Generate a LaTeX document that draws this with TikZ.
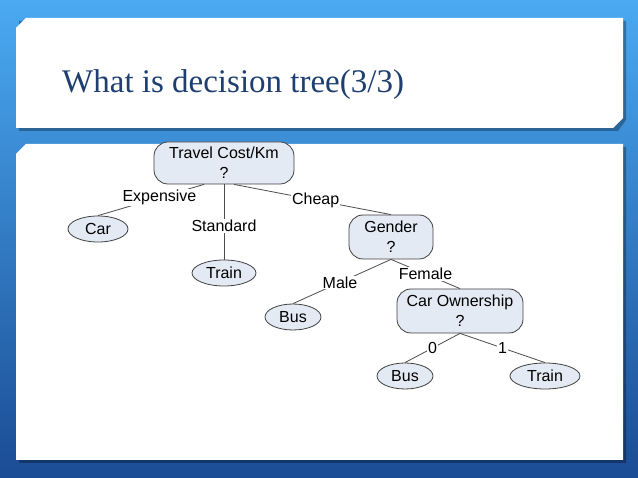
\documentclass[tikz,border=0pt]{standalone}
\usepackage{fontspec}
\setmainfont{Liberation Sans}
\newfontfamily\titlefont{Liberation Serif}
\usetikzlibrary{shapes.geometric}
\definecolor{bgtop}{HTML}{4AAAF2}
\definecolor{bgbot}{HTML}{1A4C94}
\definecolor{nodefill}{HTML}{E4EAF4}
\definecolor{titlec}{HTML}{1E3F70}
\tikzset{
  dec/.style={draw=black!75,fill=nodefill,rounded corners=14pt,align=center,font=\fontsize{16}{20}\selectfont,inner sep=0pt,line width=0.8pt},
  leaf/.style={draw=black!75,fill=nodefill,ellipse,inner sep=0pt,minimum height=26pt,font=\fontsize{16}{18}\selectfont,line width=0.8pt},
  lab/.style={fill=white,inner sep=1pt,font=\fontsize{16}{18}\selectfont},
  conn/.style={draw=black!70,line width=0.8pt},
  panel/.style={fill=white,draw=none}
}
\begin{document}
\begin{tikzpicture}[x=1pt,y=-1pt]
\useasboundingbox (0,0) rectangle (638,478);
\shade[top color=bgtop,bottom color=bgbot] (0,0) rectangle (638,478);
\fill[black,opacity=0.3] (19,21) -- (26,21) -- (626,21) -- (626,120) -- (618,131) -- (19,131) -- cycle;
\path[panel] (16,28) -- (26,18) -- (623,18) -- (623,118) -- (613,128) -- (16,128) -- cycle;
\fill[black,opacity=0.3] (19,151) -- (626,147) -- (626,463) -- (19,463) -- cycle;
\path[panel] (16,154) -- (26,144) -- (623,144) -- (623,460) -- (16,460) -- cycle;
\node[anchor=base west,text=titlec,font=\titlefont\fontsize{33}{35}\selectfont,inner sep=0pt] (title) at (62,93) {What is decision tree(3/3)};

\node[dec,minimum width=140pt,minimum height=42pt] (root) at (224,163) {Travel Cost/Km\\?};
\node[leaf,minimum width=60pt] (car) at (98,229) {Car};
\node[leaf,minimum width=64pt] (train1) at (224,273) {Train};
\node[dec,minimum width=84pt,minimum height=44pt] (gender) at (391,237) {Gender\\?};
\node[leaf,minimum width=56pt] (bus1) at (293,317) {Bus};
\node[dec,minimum width=126pt,minimum height=44pt] (own) at (460,311) {Car Ownership\\?};
\node[leaf,minimum width=56pt] (bus2) at (405,376) {Bus};
\node[leaf,minimum width=70pt] (train2) at (545,376) {Train};

\path[conn] ([xshift=-20pt]root.south) -- (car.north) node[lab,pos=0.42] {Expensive};
\path[conn] (root.south) -- (train1.north) node[lab,pos=0.55] {Standard};
\path[conn] ([xshift=10pt]root.south) -- (gender.north) node[lab,pos=0.52] {Cheap};
\path[conn] (gender.south) -- (bus1.north) node[lab,pos=0.52] {Male};
\path[conn] (gender.south) -- (own.north) node[lab,pos=0.5] {Female};
\path[conn] (own.south) -- (bus2.north) node[lab,pos=0.5] {0};
\path[conn] (own.south) -- (train2.north) node[lab,pos=0.5] {1};
\end{tikzpicture}
\end{document}
